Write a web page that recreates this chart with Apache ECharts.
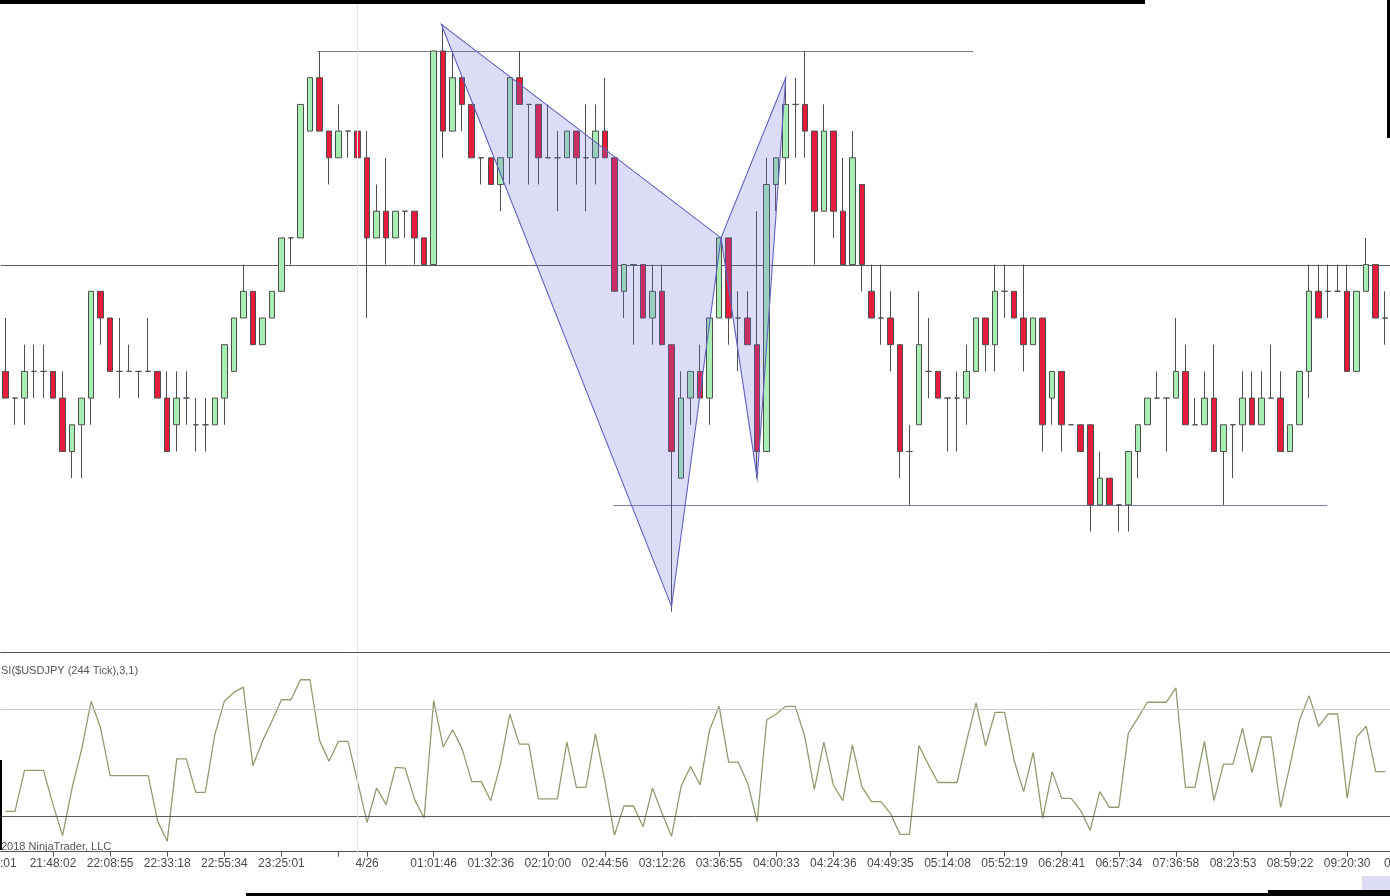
<!DOCTYPE html>
<html>
<head>
<meta charset="utf-8">
<script src="https://cdn.jsdelivr.net/npm/echarts@6/dist/echarts.min.js"></script>
<style>
html,body{margin:0;padding:0;background:#fff;}
#chart{width:1390px;height:896px;}
</style>
</head>
<body>
<div id="chart"></div>
<script>
// ---- DATA (price in ticks of 0.01 relative to 109.30) ----
const PRICE_BASE = 109.30;
const TICK = 0.01;

const openTicks = [
 -4,-5,-5,-4,-4,-4,-5,-7,-6,-5,
 -1,-2,-4,-4,-4,-4,-4,-5,-6,-5,
 -6,-6,-6,-5,-4,-2,-1,-3,-2,-1,
  1, 1, 5, 7, 5, 4, 5, 5, 4, 1,
  2, 1, 2, 2, 1, 0, 8, 5, 7, 6,
  4, 4, 3, 4, 7, 6, 6, 4, 4, 4,
  5, 4, 4, 5, 4,-1, 0, 0,-2,-1,
 -3,-8,-5,-4,-5,-2, 1,-2,-2,-3,
 -7, 3, 4, 6, 6, 5, 2, 5, 2, 0,
  3,-1,-2,-2,-3,-7,-6,-4,-4,-5,
 -5,-5,-4,-2,-3,-1,-1,-2,-3,-2,
 -5,-4,-6,-6,-6,-9,-8,-9,-9,-7,
 -6,-5,-5,-5,-4,-6,-6,-5,-7,-6,
 -6,-5,-6,-5,-5,-7,-6,-4,-1,-1,
 -1,-1,-4,-1, 0,-2
];
const closeTicks = [
 -5,-5,-4,-4,-4,-5,-7,-6,-5,-1,
 -2,-4,-4,-4,-4,-4,-5,-7,-5,-5,
 -6,-6,-5,-3,-2,-1,-3,-2,-1, 1,
  1, 6, 7, 5, 4, 5, 5, 4, 1, 2,
  1, 2, 2, 1, 0, 8, 5, 7, 6, 4,
  4, 3, 4, 7, 6, 6, 4, 4, 4, 5,
  4, 4, 5, 4,-1, 0, 0,-2,-1,-3,
 -7,-5,-4,-5,-2, 1,-2,-2,-3,-7,
  3, 4, 6, 6, 5, 2, 5, 2, 0, 4,
  0,-2,-2,-3,-7,-7,-3,-4,-5,-5,
 -5,-4,-2,-3,-1,-1,-2,-3,-2,-6,
 -4,-6,-6,-7,-9,-8,-9,-9,-7,-6,
 -5,-5,-5,-4,-6,-6,-5,-7,-6,-6,
 -5,-6,-5,-5,-7,-6,-4,-1,-2,-1,
 -1,-4,-1, 0,-2,-2
];
const lowTicks = [
 -5,-6,-6,-5,-5,-5,-7,-8,-8,-6,
 -3,-4,-5,-4,-5,-4,-5,-7,-7,-6,
 -7,-7,-6,-6,-4,-2,-3,-3,-2,-1,
  0, 1, 5, 5, 3, 4, 4, 4,-2, 1,
  0, 1, 1, 0, 0, 0, 4, 5, 5, 4,
  3, 3, 2, 3, 6, 3, 3, 4, 2, 4,
  3, 2, 3, 4,-1,-2,-3,-2,-3,-3,
 -13,-8,-6,-5,-6,-2,-3,-4,-3,-8,
 -7, 2, 3, 4, 4, 0, 2, 1, 0, 0,
 -1,-2,-3,-4,-8,-9,-6,-5,-5,-7,
 -7,-6,-4,-4,-4,-2,-2,-4,-3,-7,
 -6,-7,-6,-7,-10,-9,-9,-10,-10,-8,
 -6,-5,-7,-5,-6,-6,-6,-7,-9,-8,
 -7,-6,-6,-5,-7,-7,-6,-5,-2,-2,
 -1,-4,-4,-1,-2,-3
];
const highTicks = [
 -2,-5,-3,-3,-3,-4,-4,-6,-5,-1,
 -1,-2,-2,-3,-4,-2,-4,-4,-4,-4,
 -5,-5,-5,-3,-2, 0,-1,-2,-1, 1,
  1, 6, 7, 8, 5, 6, 5, 5, 5, 3,
  4, 2, 2, 2, 1, 8, 9, 8, 7, 6,
  4, 4, 4, 7, 8, 6, 6, 6, 5, 5,
  5, 6, 6, 7, 4, 0, 0, 0, 0, 0,
 -3,-4,-4,-3,-2, 1, 1,-1,-1, 2,
  4, 4, 7, 7, 8, 5, 6, 5, 4, 5,
  3, 0, 0,-1,-3,-6,-1,-2,-4,-5,
 -4,-3,-2,-2, 0, 0,-1, 0,-2,-2,
 -4,-4,-6,-6,-6,-7,-8,-9,-7,-6,
 -5,-4,-5,-2,-3,-5,-4,-3,-6,-6,
 -4,-4,-4,-3,-4,-6,-4, 0, 0, 0,
  0, 0,-1, 1, 0,-1
];

const rsiValues = [
 22.6,22.6,45.6,45.6,45.6,26.4, 9.0,35.7,57.2,84.3,
 69.3,42.6,42.6,42.6,42.6,42.6,17.0, 5.8,52.0,52.0,
 33.3,33.3,65.6,84.3,89.3,92.3,48.2,61.9,73.1,85.2,
 85.2,96.4,96.4,62.4,50.7,61.9,61.9,39.4,16.4,35.7,
 26.4,47.3,46.9,29.2,18.9,84.7,58.7,68.4,57.5,39.3,
 39.3,28.6,48.7,77.2,60.3,60.3,29.6,29.6,29.6,61.4,
 36.1,36.1,66.1,39.3, 9.3,25.6,25.6,14.0,35.6,21.5,
  8.7,36.5,47.8,37.4,68.4,81.5,50.2,50.2,38.4,16.8,
 74.0,77.2,81.5,81.5,64.6,35.0,61.4,37.4,28.6,59.9,
 36.5,28.1,28.1,21.5, 9.7, 9.7,59.5,48.7,38.8,38.8,
 38.8,61.8,83.4,59.4,78.1,78.1,51.1,33.7,55.6,18.7,
 44.9,29.9,29.9,23.0,12.1,33.7,24.9,24.9,66.5,74.9,
 83.8,83.8,83.8,91.8,36.1,36.1,61.8,28.6,49.1,49.1,
 69.3,44.4,64.3,64.3,24.9,48.7,74.0,87.5,70.3,77.2,
 77.2,29.9,64.3,70.3,44.9,44.9
];
const rsiLevels = [80, 20];

// time-axis ticks (bar index) and their labels
const tickIdx   = [5, 11, 17, 23, 29, 35, 38, 45, 51, 57, 63, 69, 75, 81, 87, 93, 99, 105, 111, 117, 123, 129, 135, 141];
const tickText  = ['21:48:02','22:08:55','22:33:18','22:55:34','23:25:01','','4/26','01:01:46','01:32:36','02:10:00','02:44:56','03:12:26','03:36:55','04:00:33','04:24:36','04:49:35','05:14:08','05:52:19','06:28:41','06:57:34','07:36:58','08:23:53','08:59:22','09:20:30'];
const dayBreakIdx = 37;

// harmonic pattern points X, A, B, C, D : [bar index, ticks]
const patternX = [45.8, 70, 75.2, 79, 82];
const patternTicks = [9, -12.8, 1, -8, 7];
const patternTriangles = [[0, 1, 2], [2, 3, 4]];

// horizontal levels : [from bar, to bar, ticks]
const levelSegments = [[-0.5, 145.5, 0], [32.8, 101.7, 8], [63.9, 138.9, -9]];

// ---- BUILD ----
const N = openTicks.length;
const toPrice = t => +(PRICE_BASE + t * TICK).toFixed(4);
const categories = openTicks.map((_, i) => String(i));
const candleData = openTicks.map((o, i) => [toPrice(o), toPrice(closeTicks[i]), toPrice(lowTicks[i]), toPrice(highTicks[i])]);
const tickSet = new Set(tickIdx);
const labelOf = {};
tickIdx.forEach((k, j) => labelOf[k] = tickText[j]);

const segColors = ['#5e5e5e', '#7d7d7d', '#7a7aa6'];

const chart = echarts.init(document.getElementById('chart'), null, {renderer: 'canvas'});
const option = {
  animation: false,
  backgroundColor: '#ffffff',
  grid: [
    {left: 0.7, top: 0, width: 1392, height: 652},
    {left: 0.7, top: 655.5, width: 1392, height: 198.5}
  ],
  xAxis: [
    {type: 'category', gridIndex: 0, data: categories, boundaryGap: true,
     axisLabel: {show: false}, axisTick: {show: false},
     axisLine: {show: true, lineStyle: {color: '#555', width: 1}}, splitLine: {show: false}},
    {type: 'value', gridIndex: 0, min: -0.5, max: N - 0.5, show: false},
    {type: 'category', gridIndex: 1, data: categories, boundaryGap: true,
     axisLine: {show: true, lineStyle: {color: '#555', width: 1}},
     axisTick: {show: true, alignWithLabel: true, length: 5, lineStyle: {color: '#555'},
                interval: (i) => tickSet.has(i)},
     axisLabel: {show: true, interval: (i) => tickSet.has(i),
                 formatter: (v, i) => labelOf[i] || '',
                 color: '#4a4a4a', fontSize: 12, fontFamily: 'Liberation Sans, Arial', margin: 4},
     splitLine: {show: false}}
  ],
  yAxis: [
    {type: 'value', gridIndex: 0, min: 109.1549, max: 109.3991, show: false, splitLine: {show: false}, scale: true},
    {type: 'value', gridIndex: 1, min: -1.3, max: 110, show: false, splitLine: {show: false}}
  ],
  series: [
    {
      type: 'custom', name: 'levels', xAxisIndex: 1, yAxisIndex: 0, z: 1, silent: true,
      data: levelSegments.map(s => [s[0], toPrice(s[2]), s[1]]),
      renderItem: (params, api) => {
        const s = levelSegments[params.dataIndex];
        const p0 = api.coord([s[0], toPrice(s[2])]);
        const p1 = api.coord([s[1], toPrice(s[2])]);
        return {type: 'line', shape: {x1: p0[0], y1: Math.round(p0[1]) + 0.5, x2: p1[0], y2: Math.round(p1[1]) + 0.5},
                style: {stroke: segColors[params.dataIndex], lineWidth: 1.2}};
      }
    },
    {
      type: 'candlestick', name: 'USDJPY', xAxisIndex: 0, yAxisIndex: 0, z: 2,
      data: candleData, barWidth: 6,
      itemStyle: {color: '#a8eeb4', color0: '#e61c3c', borderColor: '#4e4e4e', borderColor0: '#4e4e4e',
                  borderColorDoji: '#4e4e4e', borderWidth: 1},
      markLine: {symbol: 'none', silent: true, label: {show: false},
                 lineStyle: {color: '#e4e4e4', type: 'solid', width: 1},
                 data: [{xAxis: dayBreakIdx}]}
    },
    {
      type: 'custom', name: 'pattern', xAxisIndex: 1, yAxisIndex: 0, z: 5, silent: true,
      data: patternTriangles.map((t, i) => [patternX[t[0]], toPrice(patternTicks[t[0]])]),
      renderItem: (params, api) => {
        const tri = patternTriangles[params.dataIndex];
        const pts = tri.map(k => api.coord([patternX[k], toPrice(patternTicks[k])]));
        return {type: 'polygon', shape: {points: pts},
                style: {fill: 'rgba(110,110,225,0.24)', stroke: '#6262c0', lineWidth: 1.1}};
      }
    },
    {
      type: 'line', name: 'RSI', xAxisIndex: 2, yAxisIndex: 1, data: rsiValues,
      symbol: 'none', lineStyle: {color: '#8f9c70', width: 1.3}, z: 3,
      markLine: {symbol: 'none', silent: true, label: {show: false},
                 data: [
                   {yAxis: rsiLevels[0], lineStyle: {color: '#c9c9c9', type: 'solid', width: 1}},
                   {yAxis: rsiLevels[1], lineStyle: {color: '#5a5a5a', type: 'solid', width: 1}},
                   {xAxis: dayBreakIdx, lineStyle: {color: '#e4e4e4', type: 'solid', width: 1}}
                 ]}
    }
  ],
  graphic: [
    {type: 'text', left: 1, top: 665, silent: true,
     style: {text: 'SI($USDJPY (244 Tick),3,1)', fill: '#555', font: '11px "Liberation Sans", Arial'}},
    {type: 'text', left: 1, top: 841, silent: true,
     style: {text: '2018 NinjaTrader, LLC', fill: '#555', font: '11px "Liberation Sans", Arial'}},
    {type: 'text', left: 0, top: 858, silent: true,
     style: {text: ':01', fill: '#4a4a4a', font: '12px "Liberation Sans", Arial'}},
    {type: 'text', left: 1384, top: 858, silent: true,
     style: {text: '0', fill: '#4a4a4a', font: '12px "Liberation Sans", Arial'}},
    {type: 'rect', z: 100, silent: true, shape: {x: 0, y: 0, width: 1145, height: 4}, style: {fill: '#000'}},
    {type: 'rect', z: 100, silent: true, shape: {x: 1387, y: 0, width: 3, height: 138}, style: {fill: '#000'}},
    {type: 'rect', z: 100, silent: true, shape: {x: 0, y: 760, width: 2, height: 90}, style: {fill: '#000'}},
    {type: 'rect', z: 100, silent: true, shape: {x: 246, y: 893, width: 1144, height: 3}, style: {fill: '#000'}},
    {type: 'rect', z: 100, silent: true, shape: {x: 1268, y: 890, width: 122, height: 6}, style: {fill: '#000'}},
    {type: 'rect', z: 100, silent: true, shape: {x: 1362, y: 876, width: 28, height: 14}, style: {fill: '#dcdcf4'}}
  ]
};
chart.setOption(option);
</script>
</body>
</html>
